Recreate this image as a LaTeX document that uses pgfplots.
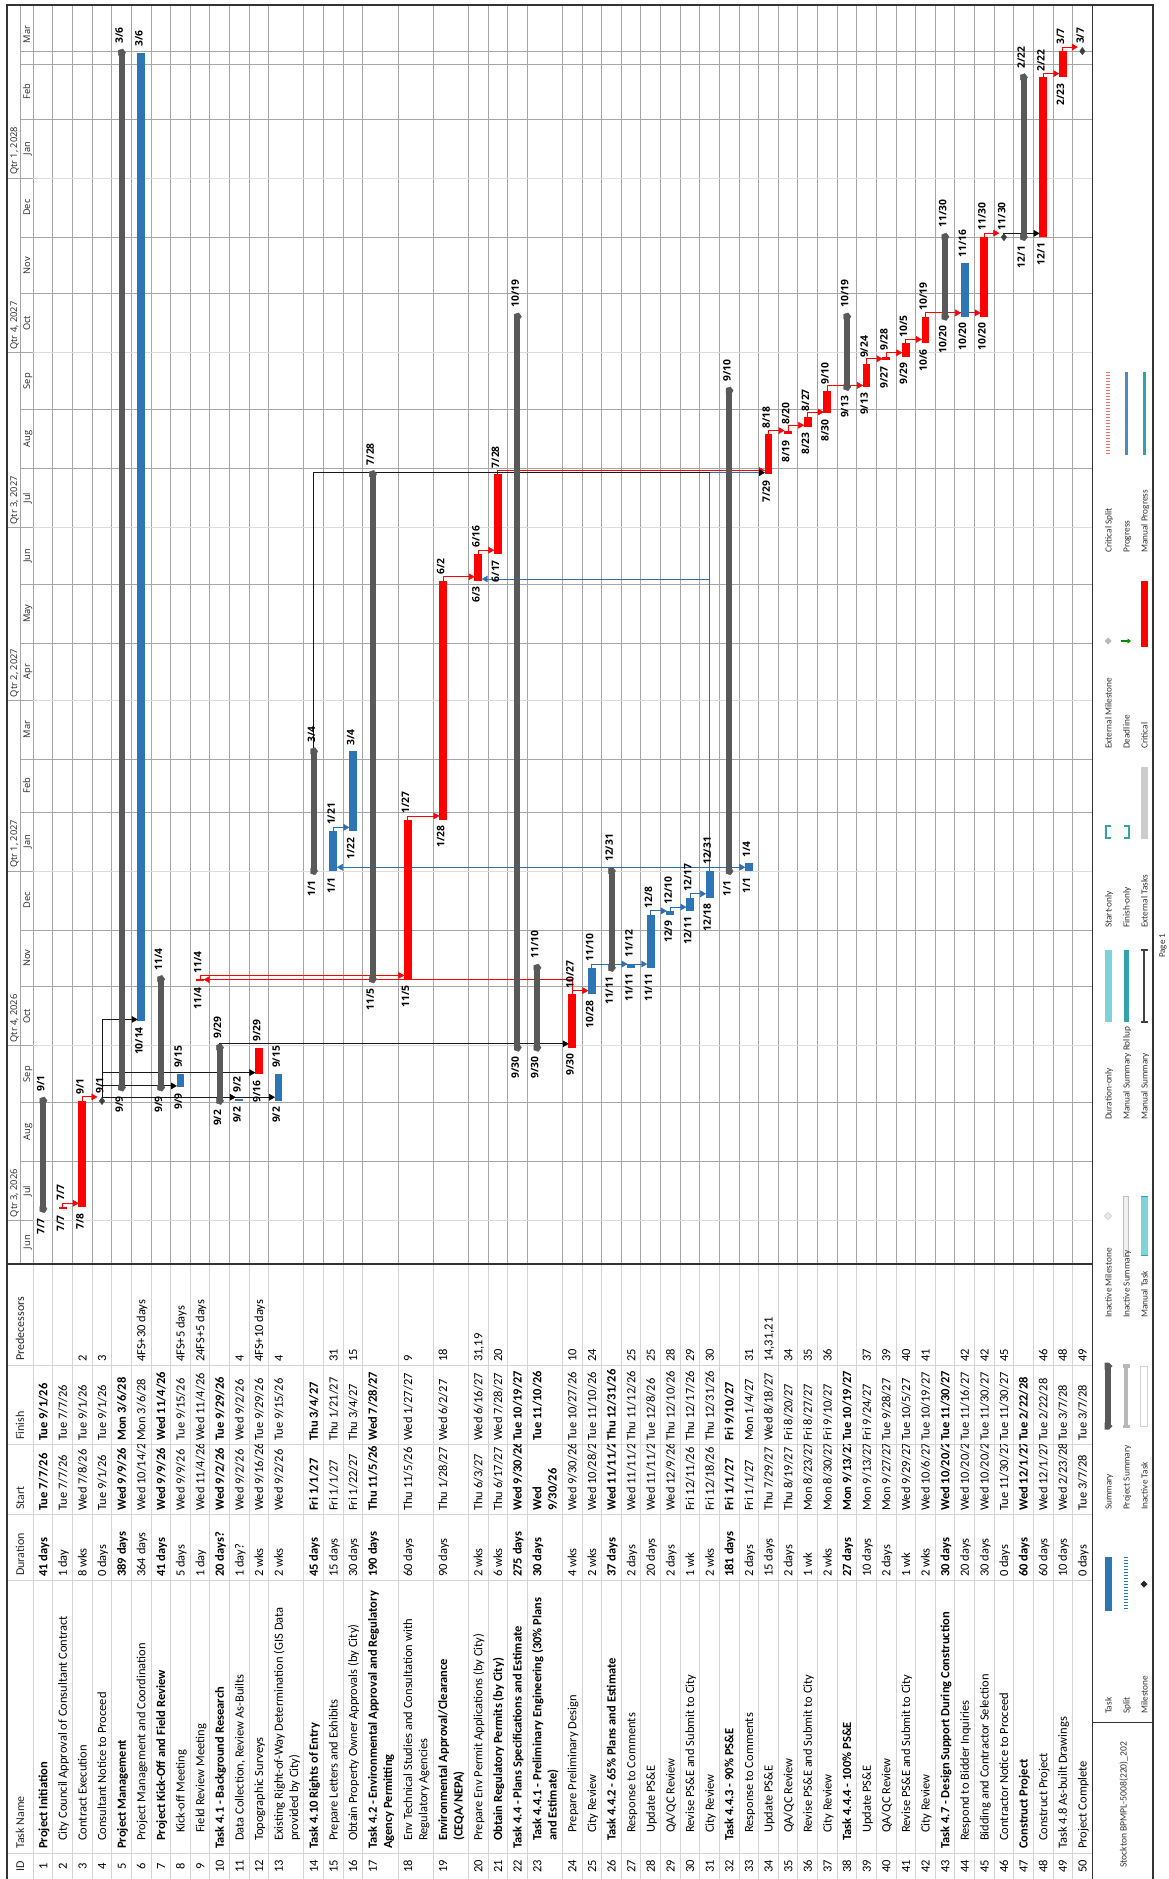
\documentclass[border=0pt]{standalone}
\usepackage{pgfplots}
\pgfplotsset{compat=1.18}
\usepackage{fontspec}
\setmainfont{Carlito}
\newfontfamily\osans{Open Sans}
\usetikzlibrary{arrows.meta}
\definecolor{crit}{HTML}{FF0000}
\definecolor{tsk}{HTML}{2E75B6}
\definecolor{summ}{HTML}{595959}
\definecolor{msc}{HTML}{404040}
\definecolor{gmon}{HTML}{A6A6A6}
\definecolor{gqtr}{HTML}{DCDCDC}
\definecolor{tgrid}{HTML}{D4D4D4}
\definecolor{lblue}{HTML}{2F6EB3}
\definecolor{tealA}{HTML}{33A3AB}
\definecolor{tealB}{HTML}{7DD3D9}
\definecolor{frm}{HTML}{333333}
\tikzset{
  tt/.style={rotate=90,inner sep=0pt,font=\fontsize{12.5}{15.4}\selectfont},
  hd/.style={rotate=90,inner sep=0pt,anchor=base west,font=\osans\fontsize{9.3}{11}\selectfont,text=black!85},
  ch/.style={rotate=90,inner sep=0pt,anchor=base west,font=\fontsize{12}{14}\selectfont,text=black!85},
  lg/.style={rotate=90,inner sep=0pt,anchor=base west,font=\fontsize{9.3}{11}\selectfont,text=black!80}}

\newcommand\rows{%
\R{43.11}{1}{0}{b}{Project Initiation}{41 days}{Tue 7/7/26}{Tue 9/1/26}{}%
\R{62.73}{2}{8}{r}{City Council Approval of Consultant Contract}{1 day}{Tue 7/7/26}{Tue 7/7/26}{}%
\R{82.35}{3}{8}{r}{Contract Execution}{8 wks}{Wed 7/8/26}{Tue 9/1/26}{2}%
\R{101.97}{4}{8}{r}{Consultant Notice to Proceed}{0 days}{Tue 9/1/26}{Tue 9/1/26}{3}%
\R{121.59}{5}{0}{b}{Project Management}{389 days}{Wed 9/9/26}{Mon 3/6/28}{}%
\R{141.21}{6}{8}{r}{Project Management and Coordination}{364 days}{Wed 10/14/26}{Mon 3/6/28}{4FS+30 days}%
\R{160.83}{7}{8}{b}{Project Kick-Off and Field Review}{41 days}{Wed 9/9/26}{Wed 11/4/26}{}%
\R{180.45}{8}{16}{r}{Kick-off Meeting}{5 days}{Wed 9/9/26}{Tue 9/15/26}{4FS+5 days}%
\R{200.07}{9}{16}{r}{Field Review Meeting}{1 day}{Wed 11/4/26}{Wed 11/4/26}{24FS+5 days}%
\R{219.69}{10}{0}{b}{Task 4.1 - Background Research}{20 days?}{Wed 9/2/26}{Tue 9/29/26}{}%
\R{239.31}{11}{8}{r}{Data Collection, Review As-Builts}{1 day?}{Wed 9/2/26}{Wed 9/2/26}{4}%
\R{258.93}{12}{8}{r}{Topographic Surveys}{2 wks}{Wed 9/16/26}{Tue 9/29/26}{4FS+10 days}%
\R{278.55}{13}{8}{r}{\vtop{\hbox{Existing Right-of-Way Determination (GIS Data}\hbox{provided by City)}}}{2 wks}{Wed 9/2/26}{Tue 9/15/26}{4}%
\R{313.75}{14}{0}{b}{Task 4.10 Rights of Entry}{45 days}{Fri 1/1/27}{Thu 3/4/27}{}%
\R{333.37}{15}{8}{r}{Prepare Letters and Exhibits}{15 days}{Fri 1/1/27}{Thu 1/21/27}{31}%
\R{352.99}{16}{8}{r}{Obtain Property Owner Approvals (by City)}{30 days}{Fri 1/22/27}{Thu 3/4/27}{15}%
\R{372.61}{17}{0}{b}{\vtop{\hbox{Task 4.2 - Environmental Approval and Regulatory}\hbox{Agency Permitting}}}{190 days}{Thu 11/5/26}{Wed 7/28/27}{}%
\R{407.81}{18}{8}{r}{\vtop{\hbox{Env Technical Studies and Consultation with}\hbox{Regulatory Agencies}}}{60 days}{Thu 11/5/26}{Wed 1/27/27}{9}%
\R{443.01}{19}{8}{n}{\vtop{\hbox{Environmental Approval/Clearance}\hbox{(CEQA/NEPA)}}}{90 days}{Thu 1/28/27}{Wed 6/2/27}{18}%
\R{478.21}{20}{8}{r}{Prepare Env Permit Applications (by City)}{2 wks}{Thu 6/3/27}{Wed 6/16/27}{31,19}%
\R{497.83}{21}{8}{n}{Obtain Regulatory Permits (by City)}{6 wks}{Thu 6/17/27}{Wed 7/28/27}{20}%
\R{517.45}{22}{0}{b}{Task 4.4 - Plans Specifications and Estimate}{275 days}{Wed 9/30/26}{Tue 10/19/27}{}%
\R{537.07}{23}{8}{b}{\vtop{\hbox{Task 4.4.1 - Preliminary Engineering (30\% Plans}\hbox{and Estimate)}}}{30 days}{\vtop{\hbox{Wed}\hbox{9/30/26}}}{Tue 11/10/26}{}%
\R{572.27}{24}{16}{r}{Prepare Preliminary Design}{4 wks}{Wed 9/30/26}{Tue 10/27/26}{10}%
\R{591.89}{25}{16}{r}{City Review}{2 wks}{Wed 10/28/26}{Tue 11/10/26}{24}%
\R{611.51}{26}{8}{b}{Task 4.4.2 - 65\% Plans and Estimate}{37 days}{Wed 11/11/26}{Thu 12/31/26}{}%
\R{631.13}{27}{16}{r}{Response to Comments}{2 days}{Wed 11/11/26}{Thu 11/12/26}{25}%
\R{650.75}{28}{16}{r}{Update PS\&E}{20 days}{Wed 11/11/26}{Tue 12/8/26}{25}%
\R{670.37}{29}{16}{r}{QA/QC Review}{2 days}{Wed 12/9/26}{Thu 12/10/26}{28}%
\R{689.99}{30}{16}{r}{Revise PS\&E and Submit to City}{1 wk}{Fri 12/11/26}{Thu 12/17/26}{29}%
\R{709.61}{31}{16}{r}{City Review}{2 wks}{Fri 12/18/26}{Thu 12/31/26}{30}%
\R{729.23}{32}{8}{b}{Task 4.4.3 - 90\% PS\&E}{181 days}{Fri 1/1/27}{Fri 9/10/27}{}%
\R{748.85}{33}{16}{r}{Response to Comments}{2 days}{Fri 1/1/27}{Mon 1/4/27}{31}%
\R{768.47}{34}{16}{r}{Update PS\&E}{15 days}{Thu 7/29/27}{Wed 8/18/27}{14,31,21}%
\R{788.09}{35}{16}{r}{QA/QC Review}{2 days}{Thu 8/19/27}{Fri 8/20/27}{34}%
\R{807.71}{36}{16}{r}{Revise PS\&E and Submit to City}{1 wk}{Mon 8/23/27}{Fri 8/27/27}{35}%
\R{827.33}{37}{16}{r}{City Review}{2 wks}{Mon 8/30/27}{Fri 9/10/27}{36}%
\R{846.95}{38}{8}{b}{Task 4.4.4 - 100\% PS\&E}{27 days}{Mon 9/13/27}{Tue 10/19/27}{}%
\R{866.57}{39}{16}{r}{Update PS\&E}{10 days}{Mon 9/13/27}{Fri 9/24/27}{37}%
\R{886.19}{40}{16}{r}{QA/QC Review}{2 days}{Mon 9/27/27}{Tue 9/28/27}{39}%
\R{905.81}{41}{16}{r}{Revise PS\&E and Submit to City}{1 wk}{Wed 9/29/27}{Tue 10/5/27}{40}%
\R{925.43}{42}{16}{r}{City Review}{2 wks}{Wed 10/6/27}{Tue 10/19/27}{41}%
\R{945.05}{43}{0}{b}{Task 4.7 - Design Support During Construction}{30 days}{Wed 10/20/27}{Tue 11/30/27}{}%
\R{964.67}{44}{8}{r}{Respond to Bidder Inquiries}{20 days}{Wed 10/20/27}{Tue 11/16/27}{42}%
\R{984.29}{45}{8}{r}{Bidding and Contractor Selection}{30 days}{Wed 10/20/27}{Tue 11/30/27}{42}%
\R{1003.91}{46}{8}{r}{Contractor Notice to Proceed}{0 days}{Tue 11/30/27}{Tue 11/30/27}{45}%
\R{1023.53}{47}{0}{b}{Construct Project}{60 days}{Wed 12/1/27}{Tue 2/22/28}{}%
\R{1043.15}{48}{8}{r}{Construct Project}{60 days}{Wed 12/1/27}{Tue 2/22/28}{46}%
\R{1062.77}{49}{0}{r}{Task 4.8 As-built Drawings}{10 days}{Wed 2/23/28}{Tue 3/7/28}{48}%
\R{1082.39}{50}{0}{r}{Project Complete}{0 days}{Tue 3/7/28}{Tue 3/7/28}{49}%
}

\begin{document}
\begin{tikzpicture}
\useasboundingbox (0pt,0pt) rectangle (1169pt,-1879pt);
\fill[white] (0pt,0pt) rectangle (1169pt,-1879pt);
\begin{scope}[x=1pt,y=-1pt]
% ---------- grid: rows ----------
\foreach \x in {33.3,52.92,72.54,92.16,111.78,131.40,151.02,170.64,190.26,209.88,229.50,249.12,268.74,303.94,323.56,343.18,362.80,398.00,433.20,468.40,488.02,507.64,527.26,562.46,582.08,601.70,621.32,640.94,660.56,680.18,699.80,719.42,739.04,758.66,778.28,797.90,817.52,837.14,856.76,876.38,896.00,915.62,935.24,954.86,974.48,994.10,1013.72,1033.34,1052.96,1072.58}
 {\draw[gmon,line width=0.9pt] (\x,5) -- (\x,1264); \draw[tgrid,line width=0.9pt] (\x,1264) -- (\x,1879);}
% month lines
\foreach \y in {1161.55,1102.7,986.89,929.94,812.23,759.07,643.26,584.41,468.6,409.75,293.94,236.98,119.28,64.22,51.7}
 {\draw[gmon,line width=0.9pt] (33.3,\y) -- (1092.2,\y); \draw[gmon,line width=0.9pt] (20,\y) -- (33.3,\y);}
\foreach \y in {1220.41,1045.75,871.08,700.22,527.45,352.79,178.13}
 {\draw[gqtr,line width=0.9pt] (33.3,\y) -- (1092.2,\y); \draw[gmon,line width=0.9pt] (7,\y) -- (33.3,\y);}
\draw[gmon,line width=0.9pt] (20,5) -- (20,1264);
% timescale labels
\foreach \y/\t in {1242.2/Jun,1191.0/Jul,1132.1/Aug,1074.2/Sep,1016.3/Oct,958.4/Nov,900.5/Dec,841.7/Jan,785.7/Feb,729.6/Mar,671.7/Apr,613.8/May,555.9/Jun,498.0/Jul,439.2/Aug,381.3/Sep,323.4/Oct,265.5/Nov,207.6/Dec,148.7/Jan,91.8/Feb,34.6/Mar}
 {\node[hd,anchor=base] at (30,\y) {\t};}
\foreach \y/\t in {1217.4/{Qtr 3, 2026},1042.7/{Qtr 4, 2026},868.1/{Qtr 1, 2027},697.2/{Qtr 2, 2027},524.5/{Qtr 3, 2027},349.8/{Qtr 4, 2027},175.1/{Qtr 1, 2028}}
 {\node[hd] at (17,\y) {\t};}
% table column lines
\foreach \y in {1365,1444,1514,1580,1853} {\draw[tgrid,line width=0.9pt] (7,\y) -- (1092.2,\y);}
% column headers
\node[ch] at (24,1361) {Predecessors};
\node[ch] at (24,1440) {Finish};
\node[ch] at (24,1510) {Start};
\node[ch] at (24,1576) {Duration};
\node[ch] at (24,1849) {Task Name};
\node[ch,anchor=base] at (24,1866) {ID};
% table text
\begin{scope}
\clip (33.3,1853) rectangle (1092.2,1879);
\def\R#1#2#3#4#5#6#7#8#9{\node[tt,anchor=base] at (#1+4.2,1866) {#2};}
\rows
\end{scope}
\begin{scope}
\clip (33.3,1580) rectangle (1092.2,1853);
\def\R#1#2#3#4#5#6#7#8#9{\node[tt,anchor=base west] at (#1+4.2,1849-#3) {\if r#4\else\bfseries\fi #5};}
\rows
\end{scope}
\begin{scope}
\clip (33.3,1514) rectangle (1092.2,1580);
\def\R#1#2#3#4#5#6#7#8#9{\node[tt,anchor=base west] at (#1+4.2,1577) {\if b#4\bfseries\fi #6};}
\rows
\end{scope}
\begin{scope}
\clip (33.3,1444) rectangle (1092.2,1514);
\def\R#1#2#3#4#5#6#7#8#9{\node[tt,anchor=base west] at (#1+4.2,1511) {\if b#4\bfseries\fi #7};}
\rows
\end{scope}
\begin{scope}
\clip (33.3,1365) rectangle (1092.2,1444);
\def\R#1#2#3#4#5#6#7#8#9{\node[tt,anchor=base west] at (#1+4.2,1441) {\if b#4\bfseries\fi #8};}
\rows
\end{scope}
\begin{scope}
\clip (33.3,1264) rectangle (1092.2,1365);
\def\R#1#2#3#4#5#6#7#8#9{\node[tt,anchor=base west] at (#1+4.2,1362) {#9};}
\rows
\end{scope}
\end{scope}

\begin{axis}[
  at={(33.3pt,-1264pt)}, anchor=south west,
  scale only axis, width=1058.9pt, height=1259pt,
  xmin=33.3, xmax=1092.2, ymin=7.0, ymax=670.19,
  hide axis, clip=false, unbounded coords=jump,
  lbl/.style={draw=none, mark=none, nodes near coords, point meta=explicit symbolic,
     nodes near coords style={font=\osans\bfseries\fontsize{10.3}{12}\selectfont, rotate=90, inner ysep=0pt, text=black}},
]
% ---------- links ----------
\addplot[crit, line width=0.9pt] table[row sep=\\]{x y\\
62.73 37\\62.73 39\\76 39\\nan nan\\
82.35 93\\82.35 95\\95 95\\nan nan\\
572.27 149\\572.27 156.8\\206 156.8\\nan nan\\
200.07 157\\200.07 159\\401 159\\nan nan\\
407.81 241\\407.81 243\\436 243\\nan nan\\
443.01 367\\443.01 369\\471 369\\nan nan\\
478.21 381\\478.21 383\\491 383\\nan nan\\
572.27 149\\572.27 151\\585 151\\nan nan\\
497.83 423\\497.83 425\\762 425\\nan nan\\
768.47 444\\768.47 446\\781 446\\nan nan\\
788.09 446\\788.09 448.8\\801 448.8\\nan nan\\
807.71 453\\807.71 455.8\\820 455.8\\nan nan\\
827.33 467\\827.33 469.8\\860 469.8\\nan nan\\
866.57 481\\866.57 483.8\\879 483.8\\nan nan\\
886.19 485\\886.19 487\\899 487\\nan nan\\
905.81 492\\905.81 494\\918 494\\nan nan\\
925.43 506\\925.43 508\\977 508\\nan nan\\
984.29 548\\984.29 550\\996 550\\nan nan\\
1043.15 632\\1043.15 634\\1056 634\\nan nan\\
1062.77 646\\1062.77 648\\1075 648\\
};
\addplot[black!90, line width=0.9pt] table[row sep=\\]{x y\\
101.97 92.85\\101.97 135.8\\nan nan\\
101.97 94.85\\272 94.85\\nan nan\\
101.97 100.8\\174 100.8\\nan nan\\
101.97 107.8\\252 107.8\\nan nan\\
101.97 135.8\\135 135.8\\nan nan\\
219.69 121\\219.69 123\\566 123\\nan nan\\
313.75 277\\313.75 423.8\\762 423.8\\nan nan\\
1003.91 547.85\\1003.91 549.85\\1037 549.85\\
};
\addplot[lblue, line width=0.9pt] table[row sep=\\]{x y\\
333.37 235\\333.37 237\\347 237\\nan nan\\
709.61 214\\709.61 423.8\\nan nan\\
339 216\\743 216\\nan nan\\
709.61 367.8\\484 367.8\\nan nan\\
709.61 423.8\\762 423.8\\nan nan\\
591.89 163\\591.89 165\\645 165\\nan nan\\
650.75 191\\650.75 193\\664 193\\nan nan\\
670.37 193\\670.37 195\\684 195\\nan nan\\
689.99 200\\689.99 202\\703 202\\
};
% arrow heads
\addplot[only marks, mark=triangle*, mark size=3.5pt, mark options={rotate=-90, fill=crit, draw=crit}]
 table[row sep=\\, x expr=\thisrow{x}-3.5, y=y]{x y\\
78.35 39\\96.97 95\\403.81 159\\439.01 243\\474.21 369\\493.83 383\\587.89 151\\764.47 425\\784.09 446\\803.71 448.8\\823.33 455.8\\862.57 469.8\\882.19 483.8\\901.81 487\\921.43 494\\960.67 508\\980.29 508\\998.9 550\\1058.77 634\\1077.4 648\\};
\addplot[only marks, mark=triangle*, mark size=3.5pt, mark options={rotate=90, fill=crit, draw=crit}]
 table[row sep=\\, x expr=\thisrow{x}+3.5, y=y]{x y\\ 204.07 156.8\\};
\addplot[only marks, mark=triangle*, mark size=3.5pt, mark options={rotate=-90, fill=black, draw=black}]
 table[row sep=\\, x expr=\thisrow{x}-3.5, y=y]{x y\\
274.55 94.85\\235.31 94.85\\176.45 100.8\\254.93 107.8\\137.21 135.8\\568.27 123\\764.47 423.8\\1039.15 549.85\\};
\addplot[only marks, mark=triangle*, mark size=3.5pt, mark options={rotate=-90, fill=lblue, draw=lblue}]
 table[row sep=\\, x expr=\thisrow{x}-3.5, y=y]{x y\\
348.99 237\\744.85 216\\627.13 165\\646.75 165\\666.37 193\\685.99 195\\705.61 202\\};
\addplot[only marks, mark=triangle*, mark size=3.5pt, mark options={rotate=90, fill=lblue, draw=lblue}]
 table[row sep=\\, x expr=\thisrow{x}+3.5, y=y]{x y\\ 337.37 216\\482.21 367.8\\};
% ---------- summary bars ----------
\addplot[summ, line width=6pt] table[row sep=\\]{x y\\
43.11 36\\43.11 93\\nan nan\\
121.59 100\\121.59 645\\nan nan\\
160.83 100\\160.83 157\\nan nan\\
219.69 93\\219.69 121\\nan nan\\
313.75 214\\313.75 277\\nan nan\\
372.61 157\\372.61 423\\nan nan\\
517.45 121\\517.45 506\\nan nan\\
537.07 121\\537.07 163\\nan nan\\
611.51 163\\611.51 214\\nan nan\\
729.23 214\\729.23 467\\nan nan\\
846.95 469\\846.95 506\\nan nan\\
945.05 506\\945.05 548\\nan nan\\
1023.53 548\\1023.53 632\\
};
\addplot[only marks, mark=pentagon*, mark size=4pt, mark options={rotate=-90, fill=summ, draw=summ}] table[row sep=\\]{x y\\
43.11 36\\43.11 93\\121.59 100\\121.59 645\\160.83 100\\160.83 157\\219.69 93\\219.69 121\\313.75 214\\313.75 277\\372.61 157\\372.61 423\\517.45 121\\517.45 506\\537.07 121\\537.07 163\\611.51 163\\611.51 214\\729.23 214\\729.23 467\\846.95 469\\846.95 506\\945.05 506\\945.05 548\\1023.53 548\\1023.53 632\\};
% ---------- critical tasks ----------
\addplot[crit, line width=7.8pt] table[row sep=\\]{x y\\
62.73 36\\62.73 37\\nan nan\\
82.35 37\\82.35 93\\nan nan\\
200.07 156\\200.07 157\\nan nan\\
258.93 107\\258.93 121\\nan nan\\
407.81 157\\407.81 241\\nan nan\\
443.01 241\\443.01 367\\nan nan\\
478.21 367\\478.21 381\\nan nan\\
497.83 381\\497.83 423\\nan nan\\
572.27 121\\572.27 149\\nan nan\\
768.47 423\\768.47 444\\nan nan\\
788.09 444\\788.09 446\\nan nan\\
807.71 448\\807.71 453\\nan nan\\
827.33 455\\827.33 467\\nan nan\\
866.57 469\\866.57 481\\nan nan\\
886.19 483\\886.19 485\\nan nan\\
905.81 485\\905.81 492\\nan nan\\
925.43 492\\925.43 506\\nan nan\\
984.29 506\\984.29 548\\nan nan\\
1043.15 548\\1043.15 632\\nan nan\\
1062.77 632\\1062.77 646\\
};
% ---------- non-critical tasks ----------
\addplot[tsk, line width=7.8pt] table[row sep=\\]{x y\\
141.21 135\\141.21 645\\nan nan\\
180.45 100\\180.45 107\\nan nan\\
239.31 93\\239.31 94\\nan nan\\
278.55 93\\278.55 107\\nan nan\\
333.37 214\\333.37 235\\nan nan\\
352.99 235\\352.99 277\\nan nan\\
591.89 149\\591.89 163\\nan nan\\
631.13 163\\631.13 165\\nan nan\\
650.75 163\\650.75 191\\nan nan\\
670.37 191\\670.37 193\\nan nan\\
689.99 193\\689.99 200\\nan nan\\
709.61 200\\709.61 214\\nan nan\\
748.85 214\\748.85 218\\nan nan\\
964.67 506\\964.67 534\\
};
% ---------- milestones ----------
\addplot[only marks, mark=diamond*, mark size=3.6pt, mark options={fill=msc, draw=msc}] table[row sep=\\]{x y\\
101.97 92.85\\1003.91 547.85\\1082.39 645.85\\};
% ---------- labels ----------
\addplot[lbl, nodes near coords style={anchor=east, inner xsep=6pt}]
 table[row sep=\\, meta=l, x expr=\thisrow{x}-2.3, y=y]{x y l\\
62.73 36 7/7\\82.35 37 7/8\\141.21 135 10/14\\180.45 100 9/9\\200.07 156 11/4\\239.31 93 9/2\\258.93 107 9/16\\278.55 93 9/2\\333.37 214 1/1\\352.99 235 1/22\\407.81 157 11/5\\443.01 241 1/28\\478.21 367 6/3\\497.83 381 6/17\\572.27 121 9/30\\591.89 149 10/28\\631.13 163 11/11\\650.75 163 11/11\\670.37 191 12/9\\689.99 193 12/11\\709.61 200 12/18\\748.85 214 1/1\\768.47 423 7/29\\788.09 444 8/19\\807.71 448 8/23\\827.33 455 8/30\\866.57 469 9/13\\886.19 483 9/27\\905.81 485 9/29\\925.43 492 10/6\\964.67 506 10/20\\984.29 506 10/20\\1043.15 548 12/1\\1062.77 632 2/23\\};
\addplot[lbl, nodes near coords style={anchor=west, inner xsep=6pt}]
 table[row sep=\\, meta=l, x expr=\thisrow{x}-2.3, y=y]{x y l\\
62.73 37 7/7\\82.35 93 9/1\\141.21 645 3/6\\180.45 107 9/15\\200.07 157 11/4\\239.31 94 9/2\\258.93 121 9/29\\278.55 107 9/15\\333.37 235 1/21\\352.99 277 3/4\\407.81 241 1/27\\443.01 367 6/2\\478.21 381 6/16\\497.83 423 7/28\\572.27 149 10/27\\591.89 163 11/10\\631.13 165 11/12\\650.75 191 12/8\\670.37 193 12/10\\689.99 200 12/17\\709.61 214 12/31\\748.85 218 1/4\\768.47 444 8/18\\788.09 446 8/20\\807.71 453 8/27\\827.33 467 9/10\\866.57 481 9/24\\886.19 485 9/28\\905.81 492 10/5\\925.43 506 10/19\\964.67 534 11/16\\984.29 548 11/30\\1043.15 632 2/22\\1062.77 646 3/7\\};
\addplot[lbl, nodes near coords style={anchor=east, inner xsep=9pt}]
 table[row sep=\\, meta=l, x expr=\thisrow{x}-2.3, y=y]{x y l\\
43.11 36 7/7\\121.59 100 9/9\\160.83 100 9/9\\219.69 93 9/2\\313.75 214 1/1\\372.61 157 11/5\\517.45 121 9/30\\537.07 121 9/30\\611.51 163 11/11\\729.23 214 1/1\\846.95 469 9/13\\945.05 506 10/20\\1023.53 548 12/1\\};
\addplot[lbl, nodes near coords style={anchor=west, inner xsep=9pt}]
 table[row sep=\\, meta=l, x expr=\thisrow{x}-2.3, y=y]{x y l\\
43.11 93 9/1\\121.59 645 3/6\\160.83 157 11/4\\219.69 121 9/29\\313.75 277 3/4\\372.61 423 7/28\\517.45 506 10/19\\537.07 163 11/10\\611.51 214 12/31\\729.23 467 9/10\\846.95 506 10/19\\945.05 548 11/30\\1023.53 632 2/22\\};
\addplot[lbl, nodes near coords style={anchor=west, inner xsep=7pt}]
 table[row sep=\\, meta=l, x expr=\thisrow{x}-2.3, y=y]{x y l\\
101.97 92.85 9/1\\1003.91 547.85 11/30\\1082.39 645.85 3/7\\};
\end{axis}

\begin{scope}[x=1pt,y=-1pt]
% ---------- legend ----------
\fill[tsk] (1104.5,1557) rectangle (1111.5,1611);
\draw[tsk,line width=4pt,dash pattern=on 0.8pt off 2.2pt] (1126,1557) -- (1126,1611);
\fill[black!85] (1144,1580.5) -- (1147.5,1584) -- (1144,1587.5) -- (1140.5,1584) -- cycle;
\node[lg] at (1111.5,1714) {Task};
\node[lg] at (1129.5,1714) {Split};
\node[lg] at (1147.5,1714) {Milestone};
\fill[summ] (1105,1366) rectangle (1111,1426);
\fill[summ] (1104.5,1362.5) -- (1109,1362.5) -- (1112.5,1366) -- (1109,1369.5) -- (1104.5,1369.5) -- cycle;
\fill[summ] (1104.5,1422.5) -- (1109,1422.5) -- (1112.5,1426) -- (1109,1429.5) -- (1104.5,1429.5) -- cycle;
\fill[gray!55] (1124,1366) rectangle (1128,1426);
\fill[gray!55] (1122.5,1364) rectangle (1129.5,1367.5);
\fill[gray!55] (1122.5,1424.5) rectangle (1129.5,1428);
\draw[gray!35,fill=white] (1140.5,1366) rectangle (1147.5,1426);
\node[lg] at (1111.5,1510) {Summary};
\node[lg] at (1129.5,1510) {Project Summary};
\node[lg] at (1147.5,1510) {Inactive Task};
\draw[gray!45,fill=gray!15] (1108,1212.5) -- (1111.5,1216) -- (1108,1219.5) -- (1104.5,1216) -- cycle;
\draw[gray!50,fill=gray!12] (1123.5,1196) rectangle (1128.5,1256);
\fill[tealB] (1140.5,1196) rectangle (1147.5,1256);
\draw[tealA,line width=1.5pt] (1140.5,1196.7) -- (1147.5,1196.7) (1140.5,1255.3) -- (1147.5,1255.3);
\node[lg] at (1111.5,1318) {Inactive Milestone};
\node[lg] at (1129.5,1318) {Inactive Summary};
\node[lg] at (1147.5,1318) {Manual Task};
\fill[tealB] (1104.5,950) rectangle (1111.5,1022);
\fill[tealA] (1123.5,950) rectangle (1128.5,1022);
\draw[black!75,line width=1.3pt] (1144,950) -- (1144,1022);
\draw[black!75,line width=1.3pt] (1140.5,950) -- (1147.5,950) (1140.5,1022) -- (1147.5,1022);
\node[lg] at (1111.5,1120) {Duration-only};
\node[lg] at (1129.5,1120) {Manual Summary Rollup};
\node[lg] at (1147.5,1120) {Manual Summary};
\draw[tealA,line width=1.5pt] (1111,826) -- (1106,826) -- (1106,838) -- (1111,838);
\draw[tealA,line width=1.5pt] (1124,826) -- (1129,826) -- (1129,838) -- (1124,838);
\fill[gray!40] (1140.5,767) rectangle (1147.5,839);
\node[lg] at (1111.5,928) {Start-only};
\node[lg] at (1129.5,928) {Finish-only};
\node[lg] at (1147.5,928) {External Tasks};
\fill[gray!55] (1108,637.5) -- (1111.5,641) -- (1108,644.5) -- (1104.5,641) -- cycle;
\draw[green!55!black,line width=1.6pt,-{Triangle[length=3.5pt,width=5pt]}] (1121,641) -- (1131,641);
\fill[crit] (1140.5,581) rectangle (1147.5,647);
\node[lg] at (1111.5,749) {External Milestone};
\node[lg] at (1129.5,749) {Deadline};
\node[lg] at (1147.5,749) {Critical};
\draw[crit!60,line width=4pt,dash pattern=on 0.8pt off 2.2pt] (1108,372) -- (1108,455);
\fill[tsk!85!white] (1124.5,372) rectangle (1127.5,455);
\fill[tealA] (1142.5,372) rectangle (1145.5,455);
\node[lg] at (1111.5,553) {Critical Split};
\node[lg] at (1129.5,553) {Progress};
\node[lg] at (1147.5,553) {Manual Progress};
\node[lg,font=\fontsize{9.6}{11}\selectfont] at (1126.5,1868) {Stockton BPMPL-5008(220)\_202};
\node[lg,font=\fontsize{9}{11}\selectfont] at (1165,958) {Page 1};
% ---------- frames ----------
\draw[frm,line width=1.3pt] (7,1879) -- (7,5) -- (1153,5) -- (1153,1879);
\draw[frm,line width=1.3pt] (1092.2,5) -- (1092.2,1879);
\draw[frm,line width=1.3pt] (7,1264) -- (1092.2,1264);
\draw[frm,line width=1pt] (1092.2,1722) -- (1153,1722);
\end{scope}
\end{tikzpicture}
\end{document}
